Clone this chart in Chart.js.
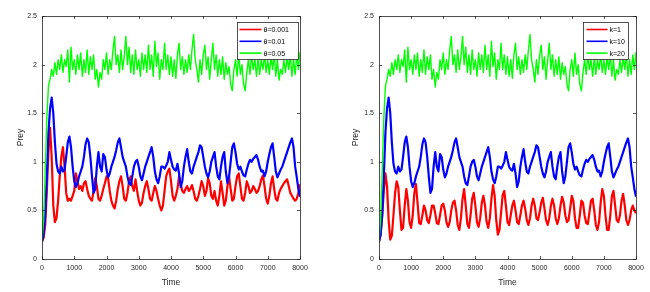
<!DOCTYPE html>
<html>
<head>
<meta charset="utf-8">
<script src="https://cdn.jsdelivr.net/npm/chart.js@4.4.0/dist/chart.umd.min.js"></script>
<style>
  html, body { margin: 0; padding: 0; background: #fff; }
  .wrap { position: absolute; top: 0; width: 325px; height: 292px; }
</style>
</head>
<body>
<div class="wrap" style="left:0"><canvas id="left" width="325" height="292"></canvas></div>
<div class="wrap" style="left:325px"><canvas id="right" width="325" height="292"></canvas></div>
<script>
// sample times, every 50 time units
var time = [];
for (var t = 0; t <= 8000; t += 50) time.push(t);

var xTicks = [0, 1000, 2000, 3000, 4000, 5000, 6000, 7000, 8000];
var yTicks = [0, 0.5, 1, 1.5, 2, 2.5];

var leftLabels = ['θ=0.001', 'θ=0.01', 'θ=0.05'];
var rightLabels = ['k=1', 'k=10', 'k=20'];

// theta = 0.001 (left red)
var redTheta = [
  0.18, 0.22, 0.35, 0.70, 1.10, 1.35, 1.05, 0.55, 0.38, 0.42,
  0.60, 0.85, 1.05, 1.15, 0.95, 0.68, 0.60, 0.62, 0.60, 0.65,
  0.70, 0.88, 0.80, 0.72, 0.75, 0.70, 0.78, 0.80, 0.72, 0.65,
  0.62, 0.60, 0.70, 0.83, 0.75, 0.62, 0.60, 0.65, 0.72, 0.78,
  0.85, 0.83, 0.70, 0.60, 0.55, 0.52, 0.60, 0.72, 0.80, 0.85,
  0.75, 0.62, 0.60, 0.68, 0.80, 0.85, 0.75, 0.70, 0.82, 0.70,
  0.60, 0.55, 0.58, 0.68, 0.75, 0.80, 0.72, 0.62, 0.60, 0.68,
  0.75, 0.70, 0.62, 0.55, 0.50, 0.55, 0.70, 0.85, 0.90, 0.93,
  0.80, 0.65, 0.60, 0.65, 0.72, 0.85, 0.78, 0.70, 0.68, 0.72,
  0.75, 0.70, 0.72, 0.76, 0.70, 0.62, 0.60, 0.65, 0.72, 0.80,
  0.75, 0.65, 0.70, 0.83, 0.78, 0.65, 0.62, 0.70, 0.60, 0.55,
  0.65, 0.80, 0.68, 0.55, 0.60, 0.75, 0.85, 0.72, 0.60, 0.62,
  0.75, 0.85, 0.88, 0.75, 0.62, 0.60, 0.68, 0.80, 0.75, 0.68,
  0.70, 0.75, 0.72, 0.68, 0.70, 0.75, 0.82, 0.86, 0.75, 0.62,
  0.57, 0.65, 0.78, 0.85, 0.72, 0.62, 0.60, 0.68, 0.72, 0.75,
  0.78, 0.80, 0.82, 0.75, 0.68, 0.65, 0.62, 0.60, 0.62, 0.68,
  0.77
];

// k = 1 (right red)
var redK = [
  0.18, 0.25, 0.45, 0.70, 0.88, 0.75, 0.40, 0.20, 0.24, 0.45,
  0.68, 0.80, 0.74, 0.50, 0.30, 0.32, 0.55, 0.72, 0.60, 0.38,
  0.32, 0.45, 0.68, 0.77, 0.58, 0.37, 0.36, 0.45, 0.55, 0.50,
  0.40, 0.37, 0.45, 0.55, 0.55, 0.47, 0.37, 0.36, 0.45, 0.55,
  0.57, 0.50, 0.38, 0.33, 0.38, 0.50, 0.58, 0.60, 0.50, 0.35,
  0.30, 0.42, 0.62, 0.72, 0.55, 0.36, 0.32, 0.45, 0.62, 0.68,
  0.55, 0.38, 0.33, 0.42, 0.58, 0.65, 0.55, 0.38, 0.32, 0.42,
  0.62, 0.76, 0.65, 0.40, 0.25, 0.30, 0.48, 0.66, 0.70, 0.55,
  0.38, 0.35, 0.45, 0.55, 0.60, 0.50, 0.38, 0.36, 0.45, 0.55,
  0.60, 0.52, 0.40, 0.35, 0.42, 0.55, 0.62, 0.55, 0.42, 0.40,
  0.48, 0.58, 0.63, 0.52, 0.40, 0.35, 0.42, 0.55, 0.62, 0.55,
  0.42, 0.36, 0.42, 0.55, 0.64, 0.58, 0.45, 0.38, 0.40, 0.52,
  0.65, 0.60, 0.42, 0.32, 0.32, 0.45, 0.60, 0.58, 0.45, 0.37,
  0.36, 0.48, 0.60, 0.62, 0.50, 0.35, 0.30, 0.38, 0.58, 0.72,
  0.65, 0.45, 0.30, 0.30, 0.45, 0.65, 0.70, 0.55, 0.40, 0.38,
  0.45, 0.60, 0.67, 0.55, 0.40, 0.35, 0.40, 0.50, 0.55, 0.50,
  0.47
];

// theta = 0.01 / k = 10 (blue, same in both panels)
var bluePrey = [
  0.18, 0.25, 0.45, 0.85, 1.30, 1.55, 1.66, 1.50, 1.20, 0.98,
  0.90, 0.88, 0.95, 0.90, 0.92, 1.05, 1.20, 1.26, 1.15, 0.95,
  0.80, 0.74, 0.78, 0.85, 0.90, 0.95, 1.05, 1.18, 1.24, 1.20,
  1.05, 0.85, 0.68, 0.72, 0.95, 1.10, 0.95, 0.90, 1.08, 1.05,
  0.92, 0.84, 0.88, 0.95, 1.00, 1.05, 1.12, 1.20, 1.24, 1.15,
  1.05, 1.00, 0.95, 0.85, 0.78, 0.76, 0.85, 0.95, 1.00, 1.02,
  0.95, 0.85, 0.81, 0.88, 0.95, 1.00, 1.05, 1.10, 1.15, 1.05,
  0.90, 0.82, 0.78, 0.85, 0.95, 0.95, 0.93, 0.96, 1.00, 1.10,
  1.02, 0.95, 0.92, 0.91, 0.98, 0.88, 0.74, 0.80, 0.95, 1.05,
  1.13, 1.00, 0.90, 0.88, 0.95, 1.00, 1.05, 1.10, 1.17, 1.15,
  1.05, 0.95, 0.88, 0.84, 0.90, 1.00, 1.05, 1.10, 0.95, 0.85,
  0.82, 0.95, 1.05, 1.10, 0.90, 0.78, 0.85, 1.00, 1.15, 1.19,
  1.10, 0.98, 0.92, 0.95, 0.90, 0.86, 0.85, 0.92, 0.98, 1.02,
  1.00, 1.03, 1.05, 1.07, 1.02, 0.95, 0.90, 0.91, 0.85, 0.90,
  1.00, 1.08, 1.15, 1.19, 1.05, 0.90, 0.84, 0.88, 0.92, 0.95,
  1.00, 1.05, 1.10, 1.15, 1.20, 1.24, 1.15, 0.95, 0.84, 0.72,
  0.64
];

// theta = 0.05 / k = 20 (green, same in both panels)
var greenPrey = [
  0.18, 0.40, 0.90, 1.45, 1.78, 1.85, 1.95, 1.88, 2.02, 1.90,
  2.05, 1.95, 2.10, 1.92, 2.05, 1.98, 2.15, 1.82, 2.18, 1.95,
  2.05, 1.90, 2.10, 1.95, 2.12, 1.88, 2.05, 1.92, 2.15, 1.90,
  2.08, 1.95, 2.10, 1.85, 1.95, 1.77, 1.92, 1.85, 2.05, 1.95,
  2.12, 1.90, 2.05, 1.95, 2.15, 2.29, 2.00, 2.10, 1.92, 2.15,
  1.95, 2.08, 2.29, 2.00, 2.18, 1.92, 2.10, 1.90, 2.15, 1.95,
  2.05, 1.88, 2.12, 1.95, 2.10, 1.92, 2.20, 1.95, 2.10, 1.88,
  2.24, 1.98, 2.12, 1.85, 2.05, 1.95, 2.22, 1.95, 2.10, 1.90,
  2.08, 1.88, 2.05, 1.86, 2.10, 2.22, 1.95, 2.08, 1.90, 2.05,
  1.92, 2.10, 1.95, 2.15, 2.31, 2.05, 1.95, 1.82, 2.05, 1.90,
  2.10, 2.20, 1.95, 2.08, 1.85, 2.05, 2.22, 1.95, 2.10, 1.88,
  2.05, 1.90, 2.08, 1.85, 2.02, 1.90, 1.98, 1.80, 1.73, 1.95,
  2.05, 1.88, 2.12, 1.90, 2.00, 1.80, 1.73, 1.92, 2.05, 1.90,
  2.10, 1.95, 2.05, 1.88, 2.08, 1.90, 2.05, 1.95, 2.10, 1.92,
  2.05, 1.90, 2.08, 1.95, 2.10, 1.88, 2.05, 1.84, 1.95, 1.90,
  2.05, 1.92, 2.08, 1.95, 2.10, 1.88, 2.05, 1.90, 2.10, 1.95,
  2.13
];

function pts(values) {
  return values.map(function (v, i) { return { x: time[i], y: v }; });
}

var ink = '#262626';
var fam = '"Liberation Sans", Arial, sans-serif';

// MATLAB style box, inward ticks, legend box
var boxPlugin = {
  id: 'boxPlugin',
  afterDatasetsDraw: function (chart, args, opts) {
    var ctx = chart.ctx, a = chart.chartArea;
    var xs = chart.scales.x, ys = chart.scales.y;
    ctx.save();
    ctx.strokeStyle = ink;
    ctx.lineWidth = 0.8;
    ctx.beginPath();
    xTicks.forEach(function (v) {
      var px = Math.round(xs.getPixelForValue(v)) + 0.5;
      ctx.moveTo(px, a.bottom); ctx.lineTo(px, a.bottom - 3);
      ctx.moveTo(px, a.top); ctx.lineTo(px, a.top + 3);
    });
    yTicks.forEach(function (v) {
      var py = Math.round(ys.getPixelForValue(v)) + 0.5;
      ctx.moveTo(a.left, py); ctx.lineTo(a.left + 3, py);
      ctx.moveTo(a.right, py); ctx.lineTo(a.right - 3, py);
    });
    ctx.stroke();
    ctx.strokeRect(Math.round(a.left) + 0.5, Math.round(a.top) + 0.5,
      Math.round(a.right - a.left), Math.round(a.bottom - a.top));

    // legend
    var bx = Math.round(a.right - opts.right - opts.w) + 0.5;
    var by = Math.round(a.top + 6) + 0.5;
    ctx.fillStyle = '#fff';
    ctx.fillRect(bx, by, opts.w, 37);
    ctx.strokeStyle = ink;
    ctx.lineWidth = 0.8;
    ctx.strokeRect(bx, by, opts.w, 37);
    ctx.font = '7px ' + fam;
    ctx.textBaseline = 'middle';
    ctx.textAlign = 'left';
    chart.data.datasets.forEach(function (ds, i) {
      var ry = by + 7 + i * 11.8;
      ctx.strokeStyle = ds.borderColor;
      ctx.lineWidth = 1.6;
      ctx.beginPath();
      ctx.moveTo(bx + opts.l0, ry);
      ctx.lineTo(bx + opts.l1, ry);
      ctx.stroke();
      ctx.fillStyle = '#000';
      ctx.fillText(ds.label, bx + opts.l1 + 2, ry + 0.5);
    });
    ctx.restore();
  }
};

function makeChart(id, red, labels, pad, legend, titlePad) {
  return new Chart(document.getElementById(id), {
    type: 'line',
    data: {
      datasets: [
        { label: labels[0], data: pts(red), borderColor: '#ff0000', borderWidth: 2.2, order: 3 },
        { label: labels[1], data: pts(bluePrey), borderColor: '#0000ff', borderWidth: 2.2, order: 2 },
        { label: labels[2], data: pts(greenPrey), borderColor: '#00ff00', borderWidth: 1.4, order: 1 }
      ]
    },
    options: {
      responsive: false,
      animation: false,
      events: [],
      layout: { padding: pad },
      elements: { point: { radius: 0 }, line: { tension: 0, borderJoinStyle: 'round' } },
      plugins: {
        legend: { display: false },
        tooltip: { enabled: false },
        boxPlugin: legend
      },
      scales: {
        x: {
          type: 'linear',
          min: 0, max: 8000,
          afterBuildTicks: function (s) { s.ticks = xTicks.map(function (v) { return { value: v }; }); },
          afterFit: function (s) { s.height = 33; },
          grid: { display: false, drawTicks: false },
          border: { display: false },
          ticks: { color: ink, padding: 5, maxRotation: 0, autoSkip: false,
                   callback: function (v) { return String(v); },
                   font: { size: 7, family: fam } },
          title: { display: true, text: 'Time', color: ink, padding: { top: 0, bottom: 4 },
                   font: { size: 8.5, family: fam } }
        },
        y: {
          min: 0, max: 2.5,
          afterBuildTicks: function (s) { s.ticks = yTicks.map(function (v) { return { value: v }; }); },
          afterFit: function (s) { s.width = 42; },
          grid: { display: false, drawTicks: false },
          border: { display: false },
          ticks: { color: ink, padding: 5, autoSkip: false,
                   callback: function (v) { return String(v); },
                   font: { size: 7, family: fam } },
          title: { display: true, text: 'Prey', color: ink, padding: { top: titlePad, bottom: 0 },
                   font: { size: 8.5, family: fam } }
        }
      }
    },
    plugins: [boxPlugin]
  });
}

makeChart('left', redTheta, leftLabels,
  { left: 0, right: 25, top: 16, bottom: 0 },
  { w: 61, right: 2, l0: 2, l1: 24 }, 15.5);
makeChart('right', redK, rightLabels,
  { left: 12, right: 14, top: 16, bottom: 0 },
  { w: 45, right: 8, l0: 3, l1: 24 }, 14);
</script>
</body>
</html>
